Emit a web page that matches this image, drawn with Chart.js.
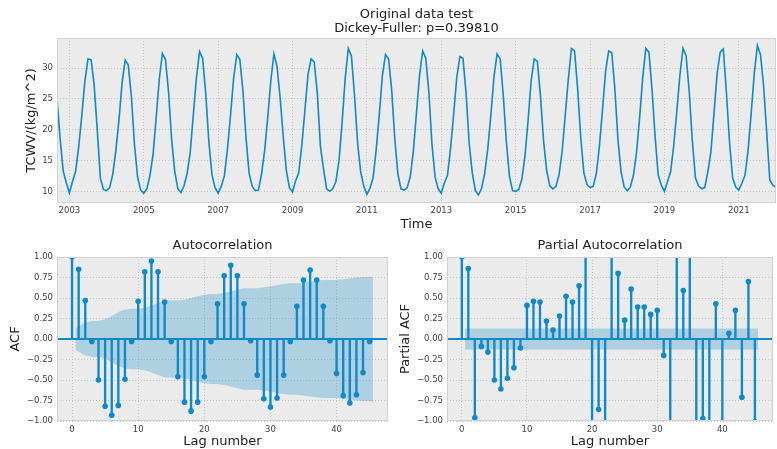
<!DOCTYPE html>
<html>
<head>
<meta charset="utf-8">
<title>Original data test</title>
<script src="https://cdn.jsdelivr.net/npm/chart.js@4.4.1/dist/chart.umd.min.js"></script>
<style>
  html, body { margin: 0; padding: 0; background: #fff; }
  #wrap { position: relative; width: 777px; height: 449px; overflow: hidden; }
  canvas { position: absolute; }
  #top { left: 0; top: 0; width: 777px; height: 234px; }
  #acf { left: 0; top: 234px; width: 392px; height: 215px; }
  #pacf { left: 392px; top: 234px; width: 385px; height: 215px; }
</style>
</head>
<body>
<div id="wrap">
  <canvas id="top" width="777" height="234"></canvas>
  <canvas id="acf" width="392" height="215"></canvas>
  <canvas id="pacf" width="385" height="215"></canvas>
</div>
<script>
// monthly TCWV, first value is Sep 2002, last is Jan 2022
const startYear = 2002;
const startMonth = 9;
const tcwv = [
  25.1, 18.6, 13.3, 11.4,
  9.7, 11.6, 13.2, 17.2, 22.3, 27.9, 31.5, 31.4, 27.2, 19.9, 12.1, 10.3,
  10.1, 10.6, 12.8, 16.7, 21.6, 27.6, 31.3, 30.5, 25.4, 17.6, 12.3, 10.2,
  9.7, 10.4, 12.6, 16.0, 21.9, 28.2, 32.4, 31.4, 26.1, 18.3, 13.2, 10.4,
  9.8, 10.9, 12.9, 16.4, 22.5, 28.5, 32.7, 31.6, 25.8, 18.0, 12.7, 10.6,
  9.7, 10.8, 12.5, 16.8, 22.4, 28.4, 32.2, 31.4, 26.3, 18.6, 12.9, 10.8,
  10.1, 10.2, 12.8, 16.6, 22.0, 28.0, 32.3, 30.3, 25.2, 18.9, 13.4, 10.6,
  9.9, 11.7, 13.0, 17.5, 23.2, 29.0, 31.5, 31.0, 25.9, 17.3, 13.6, 10.4,
  10.0, 10.4, 11.6, 15.0, 21.2, 28.4, 33.2, 32.0, 25.6, 17.8, 13.1, 10.8,
  9.5, 10.5, 12.2, 16.8, 22.5, 28.8, 32.2, 31.5, 26.4, 18.5, 12.8, 10.4,
  10.2, 10.6, 12.4, 16.6, 22.8, 28.9, 32.8, 31.6, 26.0, 17.6, 12.3, 10.4,
  9.7, 11.4, 12.6, 17.0, 22.6, 28.5, 31.9, 31.6, 25.9, 17.8, 13.0, 10.1,
  9.4, 10.5, 12.9, 16.9, 22.4, 28.6, 32.3, 31.5, 25.6, 18.0, 12.4, 10.1,
  10.0, 10.3, 12.0, 15.7, 21.5, 28.0, 31.5, 31.1, 25.5, 18.2, 13.4, 10.9,
  10.4, 10.8, 12.7, 16.5, 22.4, 28.3, 33.2, 32.8, 26.6, 18.7, 13.0, 11.1,
  10.6, 10.8, 12.8, 17.2, 23.1, 29.4, 32.8, 32.5, 26.7, 18.4, 13.2, 10.7,
  10.1, 10.7, 12.6, 16.3, 22.0, 28.5, 33.2, 32.6, 26.5, 18.8, 12.6, 11.0,
  10.0, 11.6, 13.2, 17.4, 23.0, 28.9, 33.2, 32.0, 26.2, 18.2, 12.2, 10.9,
  10.4, 10.6, 13.1, 16.4, 22.7, 29.1, 32.6, 33.1, 26.0, 18.0, 12.2, 10.7,
  10.2, 11.3, 12.6, 16.7, 22.7, 29.2, 33.7, 32.2, 27.1, 19.6, 11.8, 11.0,
  10.6
];
const yearTicks = [2003, 2005, 2007, 2009, 2011, 2013, 2015, 2017, 2019, 2021];
const tcwvTicks = [10, 15, 20, 25, 30];

const lags = [0, 1, 2, 3, 4, 5, 6, 7, 8, 9, 10, 11, 12, 13, 14, 15, 16, 17, 18, 19, 20, 21, 22,
  23, 24, 25, 26, 27, 28, 29, 30, 31, 32, 33, 34, 35, 36, 37, 38, 39, 40, 41, 42, 43, 44, 45];
const acf = [1.00, 0.85, 0.47, -0.03, -0.50, -0.82, -0.93, -0.81, -0.49, -0.03,
  0.46, 0.82, 0.95, 0.82, 0.45, -0.03, -0.46, -0.77, -0.88, -0.77,
  -0.46, -0.03, 0.43, 0.77, 0.90, 0.77, 0.43, -0.02, -0.44, -0.73,
  -0.83, -0.72, -0.44, -0.03, 0.40, 0.72, 0.84, 0.72, 0.40, -0.02,
  -0.42, -0.69, -0.78, -0.68, -0.41, -0.03];
// 95% band half-width for lags 1..45
const acfConf = [0.13, 0.20, 0.22, 0.22, 0.24, 0.28, 0.33, 0.36, 0.37, 0.37,
  0.38, 0.41, 0.44, 0.47, 0.47, 0.47, 0.48, 0.50, 0.52, 0.54,
  0.55, 0.55, 0.56, 0.58, 0.60, 0.62, 0.62, 0.62, 0.63, 0.64,
  0.66, 0.67, 0.68, 0.68, 0.69, 0.70, 0.71, 0.72, 0.72, 0.72,
  0.73, 0.74, 0.75, 0.757, 0.76];
const pacf = [1.00, 0.86, -0.96, -0.09, -0.16, -0.50, -0.61, -0.48, -0.35, -0.11,
  0.41, 0.46, 0.45, 0.22, 0.11, 0.28, 0.52, 0.45, 0.65, 1.45,
  -1.40, -0.86, -1.35, 1.50, 0.80, 0.23, 0.61, 0.39, 0.39, 0.30,
  0.35, -0.20, -1.30, 1.40, 0.59, 1.30, -1.25, -0.97, -1.30, 0.43,
  -1.20, 0.07, 0.35, -0.71, 0.70, -1.01];
const pacfConf = [0.128, 0.128, 0.128, 0.128, 0.128, 0.128, 0.128, 0.128, 0.128, 0.128,
  0.128, 0.128, 0.128, 0.128, 0.128, 0.128, 0.128, 0.128, 0.128, 0.128,
  0.128, 0.128, 0.128, 0.128, 0.128, 0.128, 0.128, 0.128, 0.128, 0.128,
  0.128, 0.128, 0.128, 0.128, 0.128, 0.128, 0.128, 0.128, 0.128, 0.128,
  0.128, 0.128, 0.128, 0.128, 0.128];
const lagTicks = [0, 10, 20, 30, 40];
const corrTicks = [-1, -0.75, -0.5, -0.25, 0, 0.25, 0.5, 0.75, 1];

const FONT = "'DejaVu Sans', sans-serif";
const BLUE = "#0f89c9";
const BAND = "rgba(15, 137, 201, 0.27)";
const GRID = "#b9b9b9";
const TICK_COLOR = "#444";
const LABEL_COLOR = "#222";

const panelBg = {
  id: "panelBg",
  beforeDraw(chart) {
    const { ctx, chartArea: a } = chart;
    ctx.save();
    ctx.fillStyle = "#ebebeb";
    ctx.fillRect(a.left, a.top, a.right - a.left, a.bottom - a.top);
    ctx.restore();
  },
  afterDraw(chart) {
    const { ctx, chartArea: a } = chart;
    ctx.save();
    ctx.strokeStyle = "#d2d2d2";
    ctx.lineWidth = 1;
    ctx.strokeRect(a.left + 0.5, a.top + 0.5, a.right - a.left - 1, a.bottom - a.top - 1);
    ctx.restore();
  },
};

function gridOpts() {
  return { color: GRID, lineWidth: 0.8, drawTicks: false, borderDash: [1, 2] };
}

function tickFont() {
  return { family: FONT, size: 8.5 };
}

function labelFont() {
  return { family: FONT, size: 13, lineHeight: 1.2 };
}

function minusFmt(v) {
  return (v < 0 ? "\u2212" : "") + Math.abs(v).toFixed(2);
}

// top panel: the raw series
const xMin = startYear + (startMonth - 1) / 12;
const xMax = xMin + (tcwv.length - 1) / 12;

new Chart(document.getElementById("top"), {
  type: "line",
  data: {
    datasets: [{
      data: tcwv.map((v, i) => ({ x: xMin + i / 12, y: v })),
      borderColor: BLUE,
      borderWidth: 1.6,
      pointRadius: 0,
      tension: 0,
      fill: false,
      clip: 0,
    }],
  },
  options: {
    responsive: false,
    animation: false,
    events: [],
    layout: { padding: { left: 0, right: 1, top: 0, bottom: 0 } },
    plugins: {
      legend: { display: false },
      tooltip: { enabled: false },
      title: {
        display: true,
        fullSize: false,
        text: ["Original data test", "Dickey-Fuller: p=0.39810"],
        color: LABEL_COLOR,
        font: { family: FONT, size: 13, weight: "normal", lineHeight: 1.1 },
        padding: { top: 7.3, bottom: 2.1 },
      },
    },
    scales: {
      x: {
        type: "linear",
        min: xMin,
        max: xMax,
        bounds: "data",
        afterBuildTicks: (s) => { s.ticks = yearTicks.map((v) => ({ value: v })); },
        afterFit: (s) => { s.height = 31; },
        grid: gridOpts(),
        border: { display: false, dash: [1, 2] },
        ticks: { color: TICK_COLOR, font: tickFont(), padding: 2.4, maxRotation: 0, autoSkip: false, callback: (v) => String(v) },
        title: { display: true, text: "Time", color: LABEL_COLOR, font: labelFont(), padding: { top: 0, bottom: 1.2 } },
      },
      y: {
        min: 8.1,
        max: 34.9,
        bounds: "data",
        afterBuildTicks: (s) => { s.ticks = tcwvTicks.map((v) => ({ value: v })); },
        afterFit: (s) => { s.width = 57; },
        grid: gridOpts(),
        border: { display: false, dash: [1, 2] },
        ticks: { color: TICK_COLOR, font: tickFont(), padding: 4, callback: (v) => String(v) },
        title: { display: true, text: "TCWV/(kg/m^2)", color: LABEL_COLOR, font: labelFont(), padding: { top: 24, bottom: 0 } },
      },
    },
  },
  plugins: [panelBg],
});

// bottom panels: stem plots with confidence band
const lagMin = -2.275;
const lagMax = 47.775;

function stemChart(id, title, yTitle, values, conf, yAxisWidth, yTitlePad, rightPad) {
  const bandLags = lags.slice(1).map((l, i, a) => (i === 0 ? l - 0.5 : i === a.length - 1 ? l + 0.5 : l));
  const stems = lags.map((l) => ({ x: l, y: values[l] }));
  return new Chart(document.getElementById(id), {
    type: "bar",
    data: {
      datasets: [
        {
          type: "line",
          data: bandLags.map((x, i) => ({ x, y: conf[i] })),
          borderWidth: 0,
          pointRadius: 0,
          backgroundColor: BAND,
          fill: "+1",
          order: 4,
          clip: 0,
        },
        {
          type: "line",
          data: bandLags.map((x, i) => ({ x, y: -conf[i] })),
          borderWidth: 0,
          pointRadius: 0,
          fill: false,
          order: 5,
          clip: 0,
        },
        {
          type: "line",
          data: [{ x: lagMin, y: 0 }, { x: lagMax, y: 0 }],
          borderColor: BLUE,
          borderWidth: 1.8,
          pointRadius: 0,
          fill: false,
          order: 2,
          clip: 0,
        },
        {
          type: "bar",
          data: stems,
          backgroundColor: BLUE,
          barThickness: 1.7,
          grouped: false,
          order: 1,
          clip: 0,
        },
        {
          type: "scatter",
          data: stems,
          pointRadius: 2.8,
          pointBackgroundColor: BLUE,
          pointBorderWidth: 0,
          order: 0,
          clip: 0,
        },
      ],
    },
    options: {
      responsive: false,
      animation: false,
      events: [],
      layout: { padding: { left: 0, right: rightPad, top: 0, bottom: 0 } },
      plugins: {
        legend: { display: false },
        tooltip: { enabled: false },
        title: {
          display: true,
          fullSize: false,
          text: title,
          color: LABEL_COLOR,
          font: { family: FONT, size: 13, weight: "normal", lineHeight: 1.2 },
          padding: { top: 4, bottom: 3.4 },
        },
      },
      scales: {
        x: {
          type: "linear",
          min: lagMin,
          max: lagMax,
          bounds: "data",
          offset: false,
          afterBuildTicks: (s) => { s.ticks = lagTicks.map((v) => ({ value: v })); },
          afterFit: (s) => { s.height = 28; },
          grid: Object.assign(gridOpts(), { offset: false }),
          border: { display: false, dash: [1, 2] },
          ticks: { color: TICK_COLOR, font: tickFont(), padding: 3.2, maxRotation: 0, autoSkip: false, callback: (v) => String(v) },
          title: { display: true, text: "Lag number", color: LABEL_COLOR, font: labelFont(), padding: { top: 0, bottom: 0 } },
        },
        y: {
          min: -1,
          max: 1,
          bounds: "data",
          afterBuildTicks: (s) => { s.ticks = corrTicks.map((v) => ({ value: v })); },
          afterFit: (s) => { s.width = yAxisWidth; },
          grid: gridOpts(),
          border: { display: false, dash: [1, 2] },
          ticks: { color: TICK_COLOR, font: tickFont(), padding: 4, callback: minusFmt },
          title: { display: true, text: yTitle, color: LABEL_COLOR, font: labelFont(), padding: { top: yTitlePad, bottom: 0 } },
        },
      },
    },
    plugins: [panelBg],
  });
}

stemChart("acf", "Autocorrelation", "ACF", acf, acfConf, 57, 8, 2);
stemChart("pacf", "Partial Autocorrelation", "Partial ACF", pacf, pacfConf, 55, 6, 0);
</script>
</body>
</html>
